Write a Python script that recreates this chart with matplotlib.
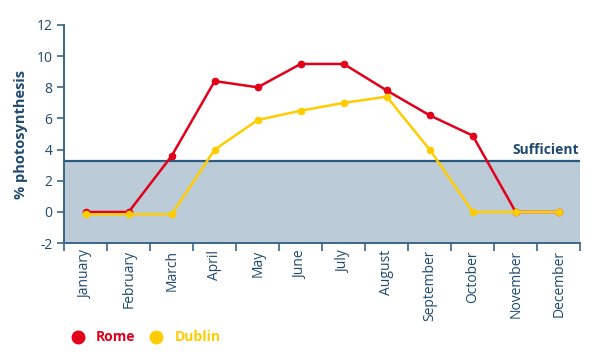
import numpy as np
import matplotlib
matplotlib.use('Agg')
import matplotlib.pyplot as plt
from matplotlib.lines import Line2D

# Data
months = ['January', 'February', 'March', 'April', 'May', 'June', 'July',
          'August', 'September', 'October', 'November', 'December']
rome = [0, 0, 3.6, 8.4, 8.0, 9.5, 9.5, 7.8, 6.2, 4.9, 0, 0]
dublin = [-0.15, -0.15, -0.15, 4.0, 5.9, 6.5, 7.0, 7.4, 4.0, 0, 0, 0]
sufficient_level = 3.25

plt.rcParams['font.family'] = ['Open Sans', 'DejaVu Sans']
plt.rcParams['axes.unicode_minus'] = False

axis_col = '#3a6688'
text_col = '#1f4a6e'
red = '#e2001a'
yellow = '#ffcc00'

fig = plt.figure(figsize=(6, 3.57), dpi=100)
ax = fig.add_axes([0.107, 0.319, 0.86, 0.611])

x = np.arange(len(months))
ax.axhspan(-2, sufficient_level, color='#bccbd8', zorder=0)
ax.axhline(sufficient_level, color='#2b5a80', lw=1.6, zorder=1)
ax.text(len(months) - 0.5 - 0.02, sufficient_level + 0.25, 'Sufficient',
        ha='right', va='bottom', fontsize=10, fontweight='bold', color=text_col)

ax.plot(x, rome, color=red, lw=1.8, marker='o', ms=4.5, zorder=3)
ax.plot(x, dublin, color=yellow, lw=1.8, marker='o', ms=4.5, zorder=3)

ax.set_xlim(-0.5, len(months) - 0.5)
ax.set_ylim(-2, 12)
ax.set_yticks(range(-2, 13, 2))
ax.set_xticks(x)
ax.set_xticklabels(months, rotation=90, fontsize=10, color=text_col)
ax.set_xticks(np.arange(-0.5, len(months), 1), minor=True)
ax.tick_params(axis='x', which='major', length=0, pad=5)
ax.tick_params(axis='x', which='minor', length=6, color=axis_col, width=1.2)
ax.tick_params(axis='y', length=5, color=axis_col, width=1.2, labelsize=10,
               labelcolor=text_col)

for s in ['top', 'right']:
    ax.spines[s].set_visible(False)
for s in ['left', 'bottom']:
    ax.spines[s].set_color(axis_col)
    ax.spines[s].set_linewidth(1.4)

ax.set_ylabel('% photosynthesis', fontsize=10.5, fontweight='bold', color=text_col,
              labelpad=6)

handles = [Line2D([], [], ls='', marker='o', ms=9, color=red),
           Line2D([], [], ls='', marker='o', ms=9, color=yellow)]
leg = fig.legend(handles, ['Rome', 'Dublin'], loc='center left',
                 bbox_to_anchor=(0.095, 0.055), ncol=2, frameon=False,
                 handletextpad=0.7, columnspacing=0.9, handlelength=1.2,
                 prop={'weight': 'bold', 'size': 10})
for t, c in zip(leg.get_texts(), [red, yellow]):
    t.set_color(c)

fig.savefig('out.png', dpi=100)
